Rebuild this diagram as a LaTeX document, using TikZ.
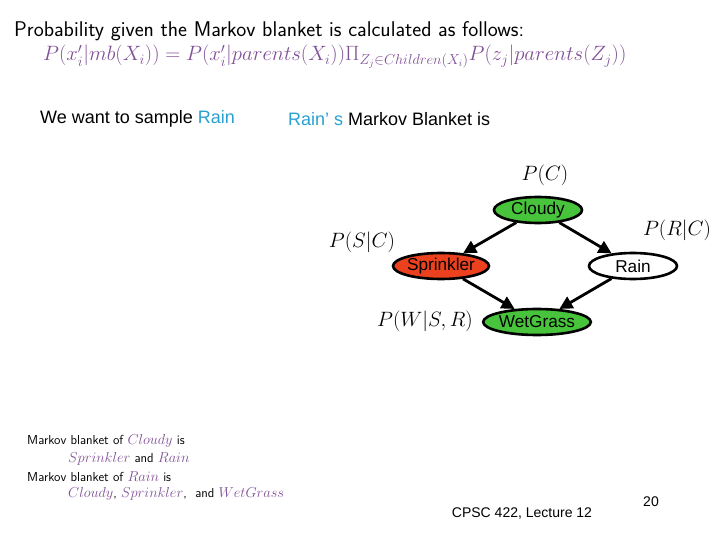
\documentclass[tikz,border=0pt]{standalone}
\usepackage{fontspec}
\newfontfamily\arial{Liberation Sans}
\usetikzlibrary{shapes.geometric,arrows.meta}
\definecolor{mbpurple}{RGB}{128,80,150}
\definecolor{rainblue}{RGB}{40,160,210}
\definecolor{nodegreen}{RGB}{72,196,60}
\definecolor{nodered}{RGB}{235,65,30}
\newcommand{\mbm}[1]{{\fontsize{14.6}{16}\selectfont\textcolor{mbpurple}{$#1$}}}
\begin{document}
\begin{tikzpicture}[x=1pt,y=-1pt,
  bn/.style={ellipse,draw=black,line width=2.6pt,minimum width=88pt,minimum height=26pt,inner sep=0pt,font=\arial\fontsize{17.2}{19}\selectfont},
  edge/.style={line width=2.8pt,-{Triangle[length=13pt,width=13pt]}},
  cpt/.style={font=\fontsize{21.5}{24}\selectfont,inner sep=0pt},
  body/.style={font=\arial\fontsize{18}{20}\selectfont,anchor=west,inner sep=0pt},
  mb/.style={font=\sffamily\fontsize{13}{15}\selectfont,anchor=west,inner sep=0pt}]
\useasboundingbox (0,0) rectangle (720,540);
\node[anchor=west,inner sep=0pt,font=\sffamily\fontsize{21.3}{25}\selectfont] (title) at (14,31) {Probability given the Markov blanket is calculated as follows:};
\node[anchor=west,inner sep=0pt,text=mbpurple,font=\fontsize{20.7}{24}\selectfont] (formula) at (43,57) {$P(x_i'|mb(X_i)) = P(x_i'|parents(X_i))\Pi_{Z_j\in Children(X_i)}P(z_j|parents(Z_j))$};
\node[body] (want) at (40,119) {We want to sample \textcolor{rainblue}{Rain}};
\node[body] (rmb) at (288,119) {\textcolor{rainblue}{Rain’ s} Markov Blanket is};
\node[bn,fill=nodegreen] (C) at (538,210) {Cloudy};
\node[bn,fill=nodered] (S) at (441,266) {Sprinkler};
\node[bn,fill=white] (R) at (633,266) {Rain};
\node[bn,fill=nodegreen] (W) at (537,322) {WetGrass};
\draw[edge] (C) -- (S);
\draw[edge] (C) -- (R);
\draw[edge] (S) -- (W);
\draw[edge] (R) -- (W);
\node[cpt] (pc) at (545,175) {$P(C)$};
\node[cpt] (prc) at (677,230) {$P(R|C)$};
\node[cpt] (psc) at (362,242) {$P(S|C)$};
\node[cpt] (pw) at (425,321) {$P(W|S,R)$};
\node[mb] (m1) at (27,441) {Markov blanket of \mbm{Cloudy} is};
\node[mb] (m2) at (68,459) {\mbm{Sprinkler} and \mbm{Rain}};
\node[mb] (m3) at (27,477) {Markov blanket of \mbm{Rain} is};
\node[mb] (m4) at (68,494) {\mbm{Cloudy}, \mbm{Sprinkler}, \ and \mbm{WetGrass}};
\node[inner sep=0pt,font=\arial\fontsize{14}{16}\selectfont] (foot) at (522,514) {CPSC 422, Lecture 12};
\node[inner sep=0pt,font=\arial\fontsize{14}{16}\selectfont] (num) at (651,502) {20};
\end{tikzpicture}
\end{document}
